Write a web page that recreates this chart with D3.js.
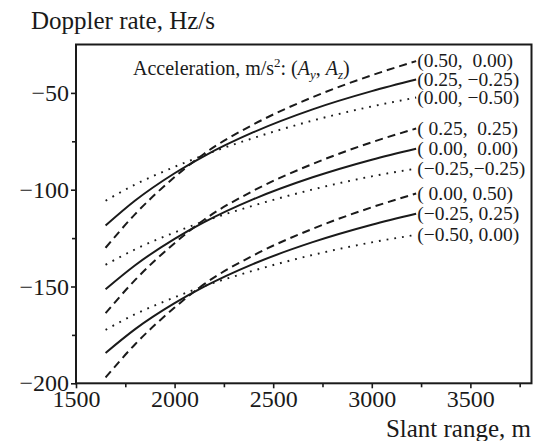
<!DOCTYPE html>
<html>
<head>
<meta charset="utf-8">
<script src="https://cdn.jsdelivr.net/npm/d3@7"></script>
<style>
  body { margin: 0; background: #fff; }
  svg text { font-family: "Liberation Serif", "Times New Roman", serif; fill: #1a1a1a; }
</style>
</head>
<body>
<svg id="chart" width="539" height="441"></svg>
<script>
// slant range samples (m)
const ranges = [1650, 1800, 2000, 2150, 2400, 2700, 3000, 3225];

// Doppler rate (Hz/s)
const g1Dashed = [-130.0, -112.6, -93.5, -81.4, -66.3, -52.2, -40.9, -33.6];
const g1Solid  = [-118.5, -105.6, -91.5, -82.6, -70.3, -58.5, -49.1, -43.1];
const g1Dotted = [-105.7, -97.3, -88.2, -82.1, -73.3, -64.3, -57.0, -52.4];

const g2Dashed = [-163.8, -146.6, -127.6, -115.5, -100.5, -86.7, -75.5, -68.4];
const g2Solid  = [-151.4, -139.0, -125.4, -116.8, -104.9, -93.6, -84.5, -78.8];
const g2Dotted = [-138.8, -130.8, -122.1, -116.3, -108.2, -99.9, -93.1, -89.1];

const g3Dashed = [-197.0, -179.8, -160.9, -148.8, -133.9, -120.2, -109.1, -102.0];
const g3Solid  = [-184.3, -172.0, -158.6, -150.1, -138.3, -127.1, -118.1, -112.4];
const g3Dotted = [-172.4, -164.3, -155.6, -149.8, -141.8, -133.7, -127.2, -123.3];

const curveLabels = [
  "(0.50,  0.00)", "(0.25, \u22120.25)", "(0.00, \u22120.50)",
  "( 0.25,  0.25)", "( 0.00,  0.00)", "(\u22120.25,\u22120.25)",
  "( 0.00, 0.50)", "(\u22120.25, 0.25)", "(\u22120.50, 0.00)"
];

const xTicks = [1500, 2000, 2500, 3000, 3500];
const xMinor = [1750, 2250, 2750, 3250, 3750];
const yTicks = [-50, -100, -150, -200];
const yMinor = [-75, -125, -175];

const allSeries = [g1Dashed, g1Solid, g1Dotted, g2Dashed, g2Solid, g2Dotted, g3Dashed, g3Solid, g3Dotted];
const dashStyles = { dashed: "8,5", solid: null, dotted: "1.8,6" };
const styleOrder = ["dashed", "solid", "dotted"];

const serif = '"Liberation Serif", "Times New Roman", serif';
const width = 539, height = 441;
const margin = { top: 44.5, right: 7.5, bottom: 57.7, left: 76 };

const svg = d3.select("#chart");

const x = d3.scaleLinear().domain([1500, 3810]).range([margin.left, width - margin.right]);
const y = d3.scaleLinear().domain([-200, -25]).range([height - margin.bottom, margin.top]);

const line = d3.line()
  .x((d, i) => x(ranges[i]))
  .y(d => y(d))
  .curve(d3.curveMonotoneX);

// curves
allSeries.forEach((vals, i) => {
  const style = styleOrder[i % 3];
  svg.append("path")
    .datum(vals)
    .attr("d", line)
    .attr("fill", "none")
    .attr("stroke", "#1a1a1a")
    .attr("stroke-width", style === "dotted" ? 1.9 : 2)
    .attr("stroke-dasharray", dashStyles[style]);

  const last = vals[vals.length - 1];
  svg.append("text")
    .attr("x", x(ranges[ranges.length - 1]) + 1)
    .attr("y", y(last) + 6)
    .attr("font-size", 19.5)
    .style("white-space", "pre")
    .text(curveLabels[i]);
});

// axes
const axisColor = "#1a1a1a";

const xAxis = svg.append("g")
  .attr("transform", `translate(0,${height - margin.bottom})`)
  .call(d3.axisBottom(x).tickValues(xTicks).tickSize(5).tickPadding(2).tickFormat(d3.format("d")));

svg.append("g")
  .attr("transform", `translate(0,${height - margin.bottom})`)
  .call(d3.axisBottom(x).tickValues(xMinor).tickSize(4).tickFormat(""));

const yAxis = svg.append("g")
  .attr("transform", `translate(${margin.left},0)`)
  .call(d3.axisLeft(y).tickValues(yTicks).tickSize(5).tickPadding(2)
    .tickFormat(d => "\u2212" + Math.abs(d)));

svg.append("g")
  .attr("transform", `translate(${margin.left},0)`)
  .call(d3.axisLeft(y).tickValues(yMinor).tickSize(4).tickFormat(""));

svg.selectAll(".domain").remove();
svg.selectAll(".tick line").attr("stroke", axisColor).attr("stroke-width", 1.6);
svg.selectAll(".tick text")
  .attr("fill", axisColor)
  .attr("font-size", 24)
  .style("font-family", serif);
xAxis.attr("font-family", serif);
yAxis.attr("font-family", serif);

// frame
svg.append("rect")
  .attr("x", margin.left)
  .attr("y", margin.top)
  .attr("width", width - margin.left - margin.right)
  .attr("height", height - margin.top - margin.bottom)
  .attr("fill", "none")
  .attr("stroke", axisColor)
  .attr("stroke-width", 2);

// titles
svg.append("text")
  .attr("x", 31)
  .attr("y", 29)
  .attr("font-size", 25)
  .text("Doppler rate, Hz/s");

svg.append("text")
  .attr("x", width - 8)
  .attr("y", 437)
  .attr("text-anchor", "end")
  .attr("font-size", 25)
  .text("Slant range, m");

const acc = svg.append("text")
  .attr("x", 133)
  .attr("y", 75)
  .attr("font-size", 20);
acc.append("tspan").text("Acceleration, m/s");
acc.append("tspan").attr("font-size", 13).attr("dy", -8).text("2");
acc.append("tspan").attr("dy", 8).text(": (");
acc.append("tspan").attr("font-style", "italic").text("A");
acc.append("tspan").attr("font-style", "italic").attr("font-size", 13).attr("dy", 4).text("y");
acc.append("tspan").attr("dy", -4).text(", ");
acc.append("tspan").attr("font-style", "italic").text("A");
acc.append("tspan").attr("font-style", "italic").attr("font-size", 13).attr("dy", 4).text("z");
acc.append("tspan").attr("dy", -4).text(")");
</script>
</body>
</html>
